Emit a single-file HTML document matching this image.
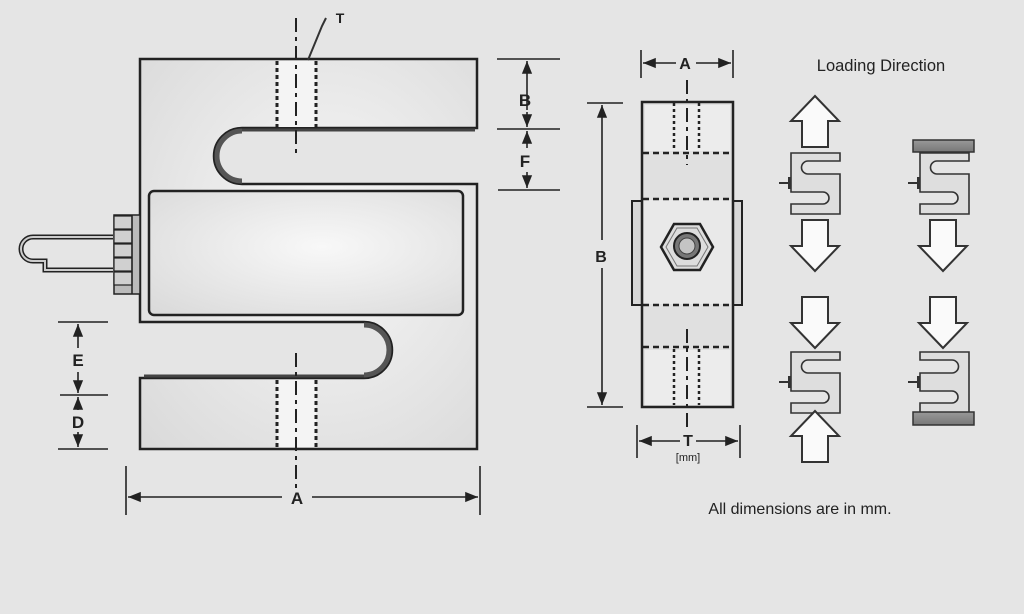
<!DOCTYPE html>
<html><head><meta charset="utf-8"><style>
html,body{margin:0;padding:0;background:#e5e5e5;}
svg{display:block;}
text{font-family:"Liberation Sans",sans-serif;fill:#222;}
</style></head><body>
<svg width="1024" height="614" viewBox="0 0 1024 614" xmlns="http://www.w3.org/2000/svg">
<defs>
<radialGradient id="g" cx="0.55" cy="0.45" r="0.75">
<stop offset="0" stop-color="#f8f8f8"/><stop offset="1" stop-color="#dadada"/></radialGradient>
<linearGradient id="pl" x1="0" y1="0" x2="0" y2="1"><stop offset="0" stop-color="#999"/><stop offset="1" stop-color="#777"/></linearGradient>
<marker id="ar" viewBox="0 0 10 10" refX="10" refY="5" markerWidth="8" markerHeight="8" orient="auto-start-reverse"><path d="M0,1 L10,5 L0,9 Z" fill="#222"/></marker>
<g id="sic">
<path d="M0,0 H49 V8 H17 A6.5,6.5 0 0 0 17,21 H49 V61 H0 V51 H32 A6,6 0 0 0 32,39 H0 Z" fill="#dedede" stroke="#333" stroke-width="1.6"/>
<rect x="-3" y="24" width="3" height="12" fill="#333"/>
<line x1="-12" y1="30" x2="-3" y2="30" stroke="#333" stroke-width="2"/>
</g>
<path id="dn" d="M-13,0 H13 V26 H24 L0,51 L-24,26 H-13 Z" fill="#fafafa" stroke="#333" stroke-width="2"/>
</defs>
<rect width="1024" height="614" fill="#e5e5e5"/>

<!-- Main S body -->
<path d="M140,59 H477 V128 H242 A28,28 0 0 0 242,184 H477 V449 H140 V378 H364 A28,28 0 0 0 364,322 H140 Z" fill="url(#g)" stroke="#222" stroke-width="2.5"/>
<path d="M242,131 A25,25 0 0 0 242,181" fill="none" stroke="#555" stroke-width="5"/>
<path d="M364,325 A25,25 0 0 1 364,375" fill="none" stroke="#555" stroke-width="5"/>
<line x1="242" y1="130" x2="475" y2="130" stroke="#444" stroke-width="3"/>
<line x1="144" y1="376" x2="364" y2="376" stroke="#444" stroke-width="3"/>
<rect x="149" y="191" width="314" height="124" rx="5" fill="url(#g)" stroke="#222" stroke-width="2.5"/>
<!-- bolt holes -->
<rect x="277" y="61" width="39" height="66" fill="#f4f4f4"/>
<rect x="277" y="380" width="39" height="67" fill="#f4f4f4"/>
<g stroke="#222" stroke-width="3" stroke-dasharray="4,3">
<line x1="277" y1="61" x2="277" y2="127"/><line x1="316" y1="61" x2="316" y2="127"/>
<line x1="277" y1="380" x2="277" y2="447"/><line x1="316" y1="380" x2="316" y2="447"/>
</g>
<g stroke="#222" stroke-width="2" stroke-dasharray="14,5,4,5">
<line x1="296" y1="18" x2="296" y2="156"/><line x1="296" y1="353" x2="296" y2="492"/>
</g>
<path d="M308,60 L322,26 L326,18" fill="none" stroke="#333" stroke-width="2"/>
<text x="340" y="23" font-size="14" font-weight="bold" text-anchor="middle">T</text>
<!-- connector -->
<path d="M113,237 H33 A12,12 0 0 0 33,261 H45 V270 H113" fill="none" stroke="#222" stroke-width="5"/>
<path d="M113,237 H33 A12,12 0 0 0 33,261 H45 V270 H113" fill="none" stroke="#ccc" stroke-width="2"/>
<rect x="114" y="215" width="26" height="79" fill="#bbb" stroke="#222" stroke-width="1.5"/>
<g stroke="#222" stroke-width="1.2" fill="#d0d0d0">
<rect x="114" y="216" width="18" height="13"/><rect x="114" y="230" width="18" height="13"/><rect x="114" y="244" width="18" height="13"/><rect x="114" y="258" width="18" height="13"/><rect x="114" y="272" width="18" height="13"/>
</g>
<line x1="132" y1="215" x2="132" y2="294" stroke="#222" stroke-width="1.5"/>

<!-- dims -->
<g stroke="#222" stroke-width="1.6">
<line x1="497" y1="59" x2="560" y2="59"/><line x1="497" y1="129" x2="560" y2="129"/><line x1="498" y1="190" x2="560" y2="190"/>
<line x1="527" y1="110" x2="527" y2="61" marker-end="url(#ar)"/><line x1="527" y1="112" x2="527" y2="127" marker-end="url(#ar)"/>
<line x1="527" y1="148" x2="527" y2="131" marker-end="url(#ar)"/><line x1="527" y1="172" x2="527" y2="188" marker-end="url(#ar)"/>
<line x1="58" y1="322" x2="108" y2="322"/><line x1="60" y1="395" x2="108" y2="395"/><line x1="58" y1="449" x2="108" y2="449"/>
<line x1="78" y1="348" x2="78" y2="324" marker-end="url(#ar)"/><line x1="78" y1="372" x2="78" y2="393" marker-end="url(#ar)"/>
<line x1="78" y1="410" x2="78" y2="397" marker-end="url(#ar)"/><line x1="78" y1="432" x2="78" y2="447" marker-end="url(#ar)"/>
<line x1="126" y1="466" x2="126" y2="515"/><line x1="480" y1="466" x2="480" y2="515"/>
<line x1="282" y1="497" x2="128" y2="497" marker-end="url(#ar)"/><line x1="312" y1="497" x2="478" y2="497" marker-end="url(#ar)"/>
</g>
<g font-size="17" font-weight="bold" text-anchor="middle">
<text x="525" y="106">B</text><text x="525" y="167">F</text>
<text x="78" y="366">E</text><text x="78" y="428">D</text>
<text x="297" y="504">A</text>
</g>

<!-- side view -->
<rect x="632" y="201" width="10" height="104" fill="#d8d8d8" stroke="#222" stroke-width="2"/>
<rect x="733" y="201" width="9" height="104" fill="#d8d8d8" stroke="#222" stroke-width="2"/>
<rect x="642" y="102" width="91" height="305" fill="#e0e0e0" stroke="#222" stroke-width="2.5"/>
<rect x="645" y="105" width="85" height="46" fill="#ececec"/>
<rect x="645" y="350" width="85" height="55" fill="#ececec"/>
<rect x="644" y="200" width="87" height="104" fill="#e9e9e9"/>
<g stroke="#222" stroke-width="2.5" stroke-dasharray="6,4">
<line x1="643" y1="153" x2="732" y2="153"/><line x1="643" y1="199" x2="732" y2="199"/>
<line x1="643" y1="305" x2="732" y2="305"/><line x1="643" y1="347" x2="732" y2="347"/>
</g>
<g stroke="#222" stroke-width="2.5" stroke-dasharray="3,3">
<line x1="674" y1="103" x2="674" y2="151"/><line x1="699" y1="103" x2="699" y2="151"/>
<line x1="674" y1="349" x2="674" y2="405"/><line x1="699" y1="349" x2="699" y2="405"/>
</g>
<g stroke="#222" stroke-width="2" stroke-dasharray="14,5,4,5">
<line x1="687" y1="80" x2="687" y2="165"/><line x1="687" y1="329" x2="687" y2="428"/>
</g>
<polygon points="661,247 674,224 700,224 713,247 700,270 674,270" fill="#ddd" stroke="#222" stroke-width="2.5"/>
<polygon points="666,247 677,228 697,228 708,247 697,266 677,266" fill="none" stroke="#777" stroke-width="1"/>
<circle cx="687" cy="246" r="13" fill="#777" stroke="#222" stroke-width="2"/>
<circle cx="687" cy="246" r="8" fill="#c4c4c4" stroke="#444" stroke-width="1"/>
<g stroke="#222" stroke-width="1.6">
<line x1="641" y1="50" x2="641" y2="78"/><line x1="733" y1="50" x2="733" y2="78"/>
<line x1="676" y1="63" x2="643" y2="63" marker-end="url(#ar)"/><line x1="696" y1="63" x2="731" y2="63" marker-end="url(#ar)"/>
<line x1="587" y1="103" x2="623" y2="103"/><line x1="587" y1="407" x2="623" y2="407"/>
<line x1="602" y1="240" x2="602" y2="105" marker-end="url(#ar)"/><line x1="602" y1="268" x2="602" y2="405" marker-end="url(#ar)"/>
<line x1="637" y1="425" x2="637" y2="458"/><line x1="740" y1="425" x2="740" y2="458"/>
<line x1="680" y1="441" x2="639" y2="441" marker-end="url(#ar)"/><line x1="696" y1="441" x2="738" y2="441" marker-end="url(#ar)"/>
</g>
<g font-size="16" font-weight="bold" text-anchor="middle">
<text x="685" y="69">A</text><text x="601" y="262">B</text><text x="688" y="446">T</text>
</g>
<text x="688" y="461" font-size="11" text-anchor="middle">[mm]</text>

<!-- loading direction -->
<text x="881" y="71" font-size="16.5" text-anchor="middle">Loading Direction</text>
<use href="#dn" transform="translate(815,147) scale(1,-1)"/>
<use href="#sic" x="791" y="153"/>
<use href="#dn" x="815" y="220"/>
<use href="#dn" x="815" y="297"/>
<use href="#sic" x="791" y="352"/>
<use href="#dn" transform="translate(815,462) scale(1,-1)"/>

<rect x="913" y="140" width="61" height="12" fill="url(#pl)" stroke="#333" stroke-width="1.5"/>
<use href="#sic" x="920" y="153"/>
<use href="#dn" x="943" y="220"/>
<use href="#dn" x="943" y="297"/>
<g transform="translate(920,352)">
<path d="M0,0 H49 V61 H0 V51 H32 A6,6 0 0 0 32,39 H0 V21 H32 A6.5,6.5 0 0 0 32,8 H0 Z" fill="#dedede" stroke="#333" stroke-width="1.6"/>
<rect x="-3" y="24" width="3" height="12" fill="#333"/>
<line x1="-12" y1="30" x2="-3" y2="30" stroke="#333" stroke-width="2"/>
</g>
<rect x="913" y="412" width="61" height="13" fill="url(#pl)" stroke="#333" stroke-width="1.5"/>

<text x="800" y="514" font-size="16" text-anchor="middle">All dimensions are in mm.</text>
</svg>
</body></html>
